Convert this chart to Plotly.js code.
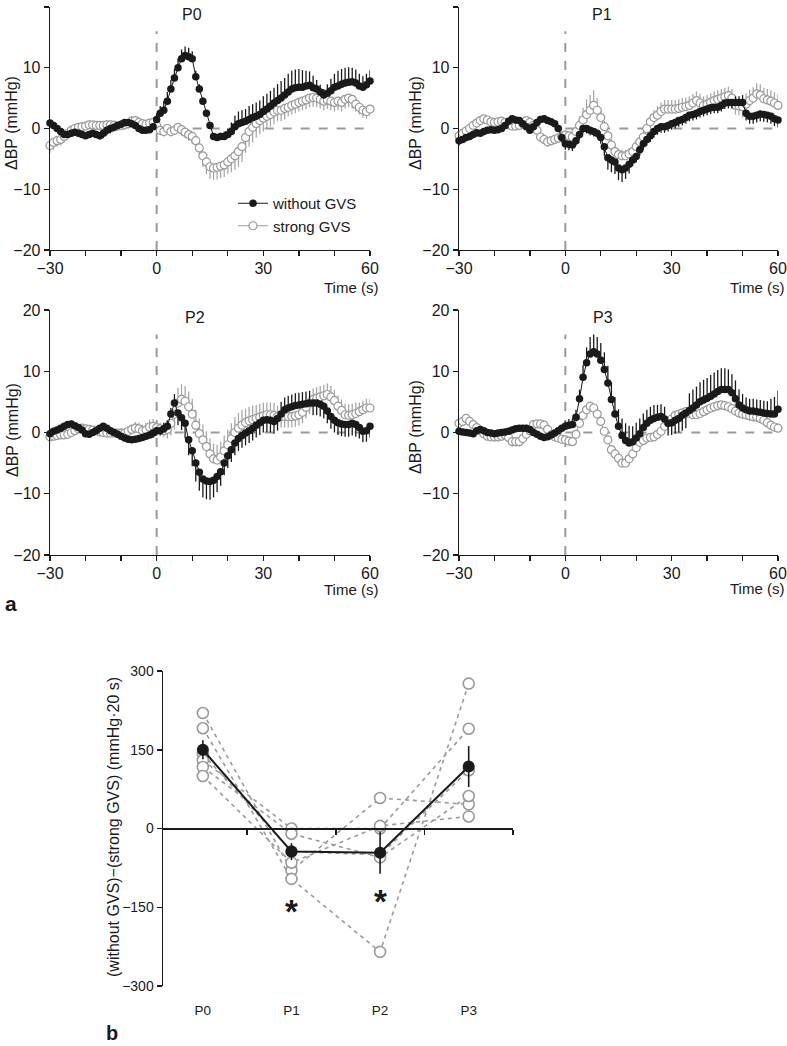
<!DOCTYPE html>
<html><head><meta charset="utf-8">
<script src="https://cdn.plot.ly/plotly-3.0.1.min.js"></script>
<style>html,body{margin:0;padding:0;background:#fff}</style>
</head><body>
<div id="chart" style="width:787px;height:1046px"></div>
<script>
// ---------------- DATA ----------------
const TIME = [-30,-29,-28,-27,-26,-25,-24,-23,-22,-21,-20,-19,-18,-17,-16,-15,-14,-13,-12,-11,
  -10,-9,-8,-7,-6,-5,-4,-3,-2,-1,0,1,2,3,4,5,6,7,8,9,10,11,12,13,14,15,16,17,18,19,
  20,21,22,23,24,25,26,27,28,29,30,31,32,33,34,35,36,37,38,39,40,41,42,43,44,45,46,47,48,49,
  50,51,52,53,54,55,56,57,58,59,60];

const P0_WITHOUT = [0.9,0.5,0.0,-0.5,-1.0,-1.0,-0.8,-0.6,-0.8,-1.0,
  -1.2,-1.0,-0.8,-1.0,-1.2,-0.8,-0.3,0.0,0.2,0.5,
  0.7,1.0,1.0,0.8,0.5,0.0,-0.3,-0.3,-0.2,0.3,
  1.5,2.5,3.0,4.5,6.5,8.3,10.0,11.5,12.0,11.8,
  11.5,8.5,6.5,4.5,2.5,0.5,-1.3,-1.5,-1.3,-1.3,
  -1.0,-0.5,0.3,0.8,1.0,1.2,1.5,1.8,2.0,2.3,
  2.8,3.2,3.7,4.2,4.6,5.0,5.5,6.0,6.5,6.7,
  6.8,6.8,7.0,7.1,6.7,6.5,6.0,5.5,5.8,6.2,
  6.8,7.0,7.3,7.5,7.6,7.7,7.5,7.0,6.8,7.2,7.8];
const P0_WITHOUT_ERR = [0.4,0.4,0.4,0.4,0.4,0.4,0.4,0.4,0.4,0.4,
  0.4,0.4,0.4,0.5,0.6,0.8,0.8,0.8,0.7,0.6,
  0.6,0.5,0.5,0.5,0.4,0.4,0.4,0.4,0.4,0.5,
  1.0,1.2,1.5,1.5,1.5,1.5,1.5,1.5,1.5,1.5,
  1.2,1.0,0.8,0.6,0.5,0.5,0.5,0.5,0.6,0.8,
  1.0,1.5,1.8,2.0,2.0,2.0,2.2,2.2,2.3,2.3,
  2.5,2.5,2.5,2.5,2.7,2.8,2.8,3.0,3.0,3.0,
  3.0,2.8,2.5,2.3,2.0,1.5,1.2,1.0,1.5,2.0,
  2.2,2.5,2.5,2.5,2.5,2.3,2.2,2.0,1.8,1.8,1.8];
const P0_STRONG = [-2.8,-2.3,-2.0,-1.8,-1.3,-0.8,-0.3,0.0,0.2,0.3,
  0.4,0.6,0.6,0.5,0.5,0.5,0.6,0.6,0.5,0.4,
  0.5,0.6,0.8,1.2,1.3,1.0,0.8,0.7,0.9,1.0,
  0.5,-0.3,-0.5,0.0,-0.5,-0.3,0.2,-0.2,-0.6,-1.0,
  -1.3,-2.0,-3.2,-4.5,-5.5,-6.3,-6.5,-6.4,-6.2,-6.0,
  -5.5,-5.0,-4.5,-3.8,-3.0,-1.5,-0.5,0.2,0.8,1.3,
  1.7,2.0,2.3,2.7,3.0,3.0,3.3,3.5,3.8,4.0,
  4.3,4.5,4.7,5.0,5.1,5.0,4.8,4.5,4.7,4.5,
  4.3,4.5,4.3,4.8,5.0,4.8,4.0,3.5,3.0,2.8,3.2];
const P0_STRONG_ERR = [1.2,1.2,1.0,1.0,1.0,0.8,0.8,0.8,0.6,0.6,
  0.6,0.6,0.6,0.6,0.6,0.7,0.8,0.8,0.8,0.8,
  0.8,0.8,0.8,0.8,0.8,0.7,0.7,0.6,0.6,0.6,
  0.6,0.8,0.8,0.8,0.8,0.8,0.8,1.0,1.0,1.0,
  1.2,1.3,1.5,1.8,2.0,2.0,2.0,2.0,2.0,2.0,
  2.0,2.2,2.3,2.5,2.5,2.5,2.5,2.5,2.3,2.2,
  2.2,2.0,2.0,2.0,1.8,1.8,1.8,1.5,1.5,1.5,
  1.5,1.5,1.5,1.5,1.5,1.5,1.5,1.5,1.5,1.5,
  1.5,1.5,1.5,1.5,1.5,1.5,1.2,1.2,1.2,1.2,1.2];

const P1_WITHOUT = [-2.0,-1.8,-1.5,-1.3,-1.0,-0.7,-0.8,-0.5,-0.3,-0.2,
  -0.3,-0.2,0.0,0.5,1.2,1.6,1.4,1.3,0.8,0.3,
  -0.3,0.3,1.0,1.5,1.6,1.3,1.1,0.8,0.0,-1.5,
  -2.5,-2.6,-2.7,-2.0,-1.0,0.0,0.0,-0.3,-0.5,-0.8,
  -1.5,-3.0,-4.8,-5.2,-5.5,-6.5,-6.8,-6.5,-5.9,-5.2,
  -4.6,-3.5,-2.5,-1.8,-1.2,-0.5,0.0,0.3,0.3,0.5,
  0.8,1.0,1.3,1.5,1.8,2.2,2.3,2.5,2.8,3.0,
  3.2,3.4,3.5,3.5,3.8,4.2,4.3,4.3,4.3,4.3,
  4.3,2.5,2.0,2.0,2.2,2.4,2.3,2.2,2.0,1.6,1.4];
const P1_WITHOUT_ERR = [0.8,0.6,0.6,0.6,0.6,0.6,0.6,0.6,0.5,0.5,
  0.5,0.5,0.5,0.5,0.5,0.5,0.5,0.5,0.5,0.5,
  0.5,0.5,0.5,0.5,0.5,0.5,0.5,0.5,0.5,0.8,
  1.0,1.0,1.0,0.8,0.8,0.8,0.8,0.8,0.8,0.8,
  1.0,1.5,2.0,2.0,2.0,2.0,2.0,1.8,1.5,1.0,
  1.0,1.0,1.0,1.0,1.0,1.0,1.0,1.0,1.0,1.0,
  1.0,1.0,1.0,1.0,1.0,1.0,1.0,1.0,1.0,1.0,
  1.0,1.0,1.0,1.0,1.0,1.0,1.0,1.0,1.0,1.0,
  1.2,1.2,1.2,1.2,1.2,1.2,1.2,1.2,1.2,1.2,1.2];
const P1_STRONG = [-1.2,-0.8,-0.4,0.0,0.5,0.9,1.3,1.6,1.4,1.1,
  1.0,1.1,1.2,1.0,0.6,0.4,0.4,0.5,0.8,1.3,
  1.0,0.5,-0.3,-1.4,-1.8,-2.2,-2.0,-1.8,-1.6,-1.3,
  -1.1,-1.2,-1.4,-0.5,0.5,1.4,2.3,3.0,3.8,3.0,
  1.8,0.3,-1.2,-2.7,-3.8,-4.3,-4.5,-4.5,-4.2,-3.8,
  -3.0,-2.2,-1.4,0.0,1.1,1.8,2.2,2.8,3.2,3.2,
  3.2,3.2,3.3,3.5,3.6,3.8,4.2,4.6,4.2,3.8,
  4.0,4.3,4.6,4.8,5.0,5.2,5.4,5.0,3.8,3.7,
  3.6,4.0,4.6,5.0,5.7,5.5,4.9,4.7,4.5,4.2,3.8];
const P1_STRONG_ERR = [0.6,0.6,0.6,0.6,0.6,0.6,0.6,0.6,0.6,0.6,
  0.6,0.6,0.6,0.6,0.6,0.6,0.6,0.6,0.6,0.6,
  0.8,0.8,0.8,0.8,0.8,0.8,0.8,0.8,0.8,0.8,
  0.8,0.8,0.8,1.0,1.5,2.0,2.5,2.5,2.5,2.0,
  1.5,1.0,1.0,1.0,1.0,1.0,1.0,1.0,1.0,1.0,
  1.0,1.0,1.0,1.2,1.2,1.2,1.5,1.5,1.5,1.5,
  1.5,1.5,1.5,1.5,1.5,1.5,1.5,1.5,1.5,1.5,
  1.5,1.5,1.5,1.5,1.5,1.5,1.5,1.5,1.5,1.5,
  1.8,1.8,1.8,1.8,1.8,1.8,1.8,1.8,1.8,1.8,1.8];

const P2_WITHOUT = [-0.2,0.2,0.4,0.7,1.0,1.3,1.4,1.1,0.8,0.4,
  -0.2,-0.3,0.0,0.3,0.7,1.0,0.7,0.3,0.0,-0.3,
  -0.6,-0.9,-1.1,-1.2,-1.1,-1.0,-0.8,-0.6,-0.4,-0.1,
  0.3,0.3,0.6,1.0,3.0,4.8,3.2,2.4,1.5,-1.2,
  -3.0,-5.0,-6.5,-7.6,-7.9,-8.0,-7.8,-7.2,-6.4,-5.0,
  -3.8,-2.8,-1.7,-1.0,-0.5,-0.1,0.3,0.7,1.2,1.6,
  2.0,2.1,2.0,1.8,2.3,3.0,3.7,4.0,4.2,4.4,
  4.5,4.6,4.7,4.8,4.8,4.8,4.6,4.3,3.5,2.6,
  2.0,1.6,1.4,1.3,1.3,1.5,1.3,0.8,0.2,0.3,1.0];
const P2_WITHOUT_ERR = [0.5,0.5,0.5,0.5,0.5,0.5,0.5,0.5,0.5,0.5,
  0.5,0.5,0.5,0.5,0.5,0.5,0.5,0.5,0.5,0.5,
  0.5,0.5,0.5,0.5,0.5,0.5,0.5,0.5,0.5,0.8,
  0.8,0.8,1.0,1.0,1.0,1.5,2.0,2.0,2.5,2.5,
  2.5,3.0,3.0,3.0,3.0,3.0,2.8,2.5,2.3,2.0,
  2.0,2.0,2.0,2.0,2.0,2.0,2.0,2.0,2.0,2.0,
  2.0,2.0,2.0,2.0,2.0,2.0,2.0,2.0,2.0,2.0,
  2.0,2.0,2.0,2.0,2.0,2.0,2.0,2.0,2.0,2.0,
  2.0,2.0,2.0,2.0,2.0,2.0,2.0,1.8,1.8,1.8,1.8];
const P2_STRONG = [-0.7,-0.6,-0.5,-0.4,-0.4,-0.3,0.0,0.3,0.6,0.7,
  0.6,0.5,0.4,0.3,0.1,0.0,-0.1,-0.1,-0.1,-0.1,
  -0.1,-0.1,0.2,0.5,0.7,0.6,0.3,0.4,0.9,1.0,
  0.8,0.6,0.3,0.5,1.5,3.0,4.8,5.4,5.1,4.2,
  3.0,1.2,-0.2,-1.2,-2.3,-3.5,-4.3,-4.5,-4.0,-3.0,
  -2.0,-1.0,0.0,0.7,1.2,1.6,1.9,2.1,2.3,2.5,
  2.7,2.9,2.9,2.8,2.6,2.6,2.6,2.6,2.6,2.7,
  2.9,3.3,4.1,4.8,5.4,5.6,5.8,6.0,6.2,5.8,
  5.2,4.3,3.6,2.9,2.8,2.9,3.1,3.4,3.7,4.0,4.0];
const P2_STRONG_ERR = [0.5,0.5,0.5,0.5,0.5,0.5,0.5,0.5,0.5,0.5,
  0.5,0.5,0.5,0.5,0.5,0.5,0.5,0.5,0.5,0.5,
  0.8,0.8,0.8,0.8,1.0,1.0,1.0,1.2,1.2,1.2,
  1.0,1.0,1.0,1.5,2.0,2.5,2.5,2.5,2.5,2.5,
  2.5,2.5,2.5,2.5,2.5,2.5,2.5,2.5,2.5,2.5,
  2.5,2.5,2.5,2.5,2.5,2.3,2.3,2.3,2.2,2.2,
  2.2,2.0,2.0,2.0,1.8,1.8,1.8,1.8,1.8,1.8,
  1.8,1.8,1.8,1.8,1.8,1.8,1.8,1.8,1.8,1.8,
  1.8,1.8,1.8,1.8,1.8,1.8,1.8,1.5,1.5,1.5,1.5];

const P3_WITHOUT = [0.2,0.1,0.0,-0.1,-0.2,0.3,0.5,0.3,0.0,-0.1,
  -0.2,-0.1,0.0,0.1,0.2,0.4,0.6,0.7,0.7,0.7,
  0.5,0.0,-0.3,-0.6,-0.8,-0.7,-0.4,-0.1,0.3,0.7,
  1.0,1.2,1.3,2.5,5.5,9.0,11.4,12.8,13.2,12.8,
  11.8,10.3,8.1,5.4,3.0,1.0,-0.5,-1.3,-1.7,-1.5,
  -0.9,-0.2,0.8,1.5,2.0,2.3,2.5,2.6,2.2,1.5,
  1.6,2.0,2.3,2.8,3.2,3.6,4.0,4.5,5.0,5.3,
  5.6,5.9,6.3,6.7,7.0,7.0,7.0,6.5,5.5,4.5,
  4.0,3.7,3.5,3.5,3.4,3.3,3.2,3.1,3.0,3.0,3.8];
const P3_WITHOUT_ERR = [0.4,0.4,0.4,0.4,0.4,0.4,0.4,0.4,0.4,0.4,
  0.4,0.4,0.4,0.4,0.4,0.4,0.4,0.4,0.4,0.4,
  0.4,0.4,0.4,0.4,0.4,0.4,0.4,0.4,0.4,0.4,
  0.8,1.0,1.0,1.2,1.5,2.0,2.5,2.8,2.8,2.8,
  2.8,2.8,2.8,2.8,2.8,2.8,2.8,2.8,2.8,2.5,
  2.5,2.5,2.3,2.2,2.2,2.2,2.0,2.0,2.0,2.0,
  2.0,2.2,2.3,2.5,2.5,2.8,3.0,3.0,3.2,3.3,
  3.3,3.5,3.5,3.5,3.5,3.5,3.3,3.0,3.0,2.5,
  2.3,2.0,2.0,2.0,2.0,2.0,2.0,2.0,2.5,2.8,3.0];
const P3_STRONG = [1.5,1.8,2.3,1.8,1.3,0.8,0.3,-0.2,-0.6,-0.7,
  -0.7,-0.7,-0.6,-0.4,-0.8,-1.5,-1.5,-1.5,-1.0,-0.3,
  0.3,1.3,1.4,1.4,1.2,0.5,-0.4,-0.7,-0.9,-1.1,
  -1.2,-1.4,-1.5,-0.3,1.5,2.8,3.7,4.3,4.0,3.0,
  1.8,0.2,-1.2,-2.8,-3.5,-4.2,-5.0,-5.0,-4.3,-3.5,
  -2.5,-1.6,-1.3,-0.9,-0.8,-0.7,-0.3,0.2,1.0,1.6,
  2.2,2.8,3.0,3.2,3.4,3.1,2.9,2.9,3.1,3.4,
  3.7,4.0,4.2,4.4,4.5,4.4,4.2,3.9,3.5,3.2,
  3.0,2.9,2.7,2.6,2.5,2.3,2.0,1.6,1.2,0.9,0.7];
const P3_STRONG_ERR = [0.5,0.5,0.5,0.5,0.5,0.5,0.5,0.5,0.5,0.5,
  0.8,0.8,0.8,0.8,0.8,0.8,0.8,0.8,0.8,0.8,
  0.6,0.6,0.6,0.6,0.6,0.6,0.6,0.6,0.6,0.6,
  0.6,0.6,0.6,0.6,0.6,0.6,0.6,0.6,0.6,0.6,
  0.6,0.6,0.6,0.6,0.6,0.6,0.6,0.6,0.6,0.6,
  0.6,0.6,0.6,0.6,0.6,0.6,0.6,0.6,0.6,0.6,
  0.6,0.6,0.6,0.6,0.6,0.6,0.6,0.6,0.6,0.6,
  0.8,0.8,0.8,0.8,0.8,0.8,0.8,0.8,0.8,0.8,
  0.8,0.8,0.8,0.8,0.8,0.8,0.8,0.8,0.8,0.8,0.8];

const PANEL_NAMES = ['P0','P1','P2','P3'];
const X_TICKS = [-30,-20,-10,0,10,20,30,40,50,60];
const X_TICKTEXT = ['\u221230','','','0','','','30','','','60'];
const Y_TICKS = [-20,-10,0,10,20];
const Y_TICKTEXT = ['\u221220','\u221210','0','10','20'];

// panel b
const PHASES = ['P0','P1','P2','P3'];
const SUBJ1 = [220,-80,58,46];
const SUBJ2 = [191,-96,-235,276];
const SUBJ3 = [142,-44,-50,111];
const SUBJ4 = [130,0,0,190];
const SUBJ5 = [117,-10,-55,62];
const SUBJ6 = [100,-65,5,23];
const MEAN_DIFF = [150,-44,-46,118];
const MEAN_SE = [18,16,40,39];
const B_YTICKS = [-300,-150,0,150,300];
const B_YTICKTEXT = ['\u2212300','\u2212150','0','150','300'];
const SIG_PHASES = [1,2];
const SIG_Y = [-150,-132];

// ---------------- LAYOUT ----------------
const W = 787, H = 1046;
const px = v => v / W, py = v => 1 - v / H;
const FONT = '"Liberation Sans", Arial, Helvetica, sans-serif';
const BLACK = '#1a1a1a', GRAY = '#9a9a9a';

const panels = [
  {w: P0_WITHOUT, we: P0_WITHOUT_ERR, s: P0_STRONG, se: P0_STRONG_ERR, xd:[50,370], yd:[7,250]},
  {w: P1_WITHOUT, we: P1_WITHOUT_ERR, s: P1_STRONG, se: P1_STRONG_ERR, xd:[459,778], yd:[7,250]},
  {w: P2_WITHOUT, we: P2_WITHOUT_ERR, s: P2_STRONG, se: P2_STRONG_ERR, xd:[50,370], yd:[310,555]},
  {w: P3_WITHOUT, we: P3_WITHOUT_ERR, s: P3_STRONG, se: P3_STRONG_ERR, xd:[459,778], yd:[310,555]},
];

function splitErr(self, other, err, upOnTie){
  const plus = [], minus = [];
  for (let i = 0; i < self.length; i++){
    const up = upOnTie ? self[i] >= other[i] : self[i] > other[i];
    plus.push(up ? err[i] : 0); minus.push(up ? 0 : err[i]);
  }
  return {plus, minus};
}

const traces = [];
const layout = {
  width: W, height: H, margin:{l:0,r:0,t:0,b:0},
  paper_bgcolor:'#fff', plot_bgcolor:'rgba(0,0,0,0)',
  font:{family: FONT, color: BLACK, size: 15},
  showlegend: true,
  legend:{x: px(233), y: py(187), xanchor:'left', yanchor:'top', bgcolor:'rgba(0,0,0,0)',
    font:{size:15, family: FONT, color: BLACK}, traceorder:'reversed', itemwidth:30, tracegroupgap:0},
  shapes: [], annotations: []
};

const titlePos = [[192,15],[602,15],[195,317],[603,317]];
const ytitlePos = [[12,123],[416,123],[12,430],[416,427]];
const timePos = [[380,287],[786,287],[380,589],[786,588]];

panels.forEach((p, k) => {
  const n = k + 1;
  const xa = n === 1 ? 'x' : 'x' + n, ya = n === 1 ? 'y' : 'y' + n;
  const sErr = splitErr(p.s, p.w, p.se, false);
  const wErr = splitErr(p.w, p.s, p.we, true);
  traces.push({
    type:'scatter', mode:'lines+markers', x: TIME, y: p.s, xaxis: xa, yaxis: ya,
    name:'strong GVS', showlegend: k === 0, cliponaxis:false,
    line:{color: GRAY, width:1},
    marker:{symbol:'circle', size:8, color:'#fff', line:{color: GRAY, width:1.2}},
    error_y:{type:'data', symmetric:false, array: sErr.plus, arrayminus: sErr.minus,
      color:'#a8a8a8', thickness:1.3, width:0}
  });
  traces.push({
    type:'scatter', mode:'lines+markers', x: TIME, y: p.w, xaxis: xa, yaxis: ya,
    name:'without GVS', showlegend: k === 0, cliponaxis:false,
    line:{color: BLACK, width:1},
    marker:{symbol:'circle', size:7.5, color: BLACK},
    error_y:{type:'data', symmetric:false, array: wErr.plus, arrayminus: wErr.minus,
      color: BLACK, thickness:1.3, width:0}
  });
  const axKey = n === 1 ? '' : String(n);
  layout['xaxis' + axKey] = {
    domain:[px(p.xd[0]), px(p.xd[1])], anchor: ya, range:[-30,60],
    tickmode:'array', tickvals: X_TICKS, ticktext: X_TICKTEXT,
    ticks:'outside', ticklen:5, tickwidth:1.3, tickcolor: BLACK, ticklabelstandoff:-2,
    showline:true, linecolor: BLACK, linewidth:1.3, showgrid:false, zeroline:false,
    tickfont:{size:16, family: FONT, color: BLACK}, fixedrange:true
  };
  layout['yaxis' + axKey] = {
    domain:[py(p.yd[1]), py(p.yd[0])], anchor: xa, range:[-20,20],
    tickmode:'array', tickvals: Y_TICKS, ticktext: Y_TICKTEXT,
    ticks:'outside', ticklen:5, tickwidth:1.3, tickcolor: BLACK,
    showline:true, linecolor: BLACK, linewidth:1.3, showgrid:false, zeroline:false,
    tickfont:{size:16, family: FONT, color: BLACK}, fixedrange:true
  };
  // stimulus onset and baseline reference lines
  layout.shapes.push({type:'line', xref: xa, yref: ya, x0:0, x1:0, y0:-20, y1:16, layer:'below',
    line:{color: GRAY, width:2, dash:'dash'}});
  layout.shapes.push({type:'line', xref: xa, yref: ya, x0:0, x1:60, y0:0, y1:0, layer:'below',
    line:{color: GRAY, width:2, dash:'dash'}});
  layout.annotations.push({text: PANEL_NAMES[k], xref:'paper', yref:'paper', x: px(titlePos[k][0]), y: py(titlePos[k][1]),
    xanchor:'center', yanchor:'middle', showarrow:false, font:{size:16}});
  layout.annotations.push({text:'\u0394BP (mmHg)', xref:'paper', yref:'paper', x: px(ytitlePos[k][0]), y: py(ytitlePos[k][1]),
    xanchor:'center', yanchor:'middle', textangle:-90, showarrow:false, font:{size:16}});
  layout.annotations.push({text:'Time (s)', xref:'paper', yref:'paper', x: px(timePos[k][0]), y: py(timePos[k][1]),
    xanchor:'right', yanchor:'middle', showarrow:false, font:{size:15}});
});

// panel b
const BX = [0,1,2,3];
[SUBJ1,SUBJ2,SUBJ3,SUBJ4,SUBJ5,SUBJ6].forEach(s => {
  traces.push({type:'scatter', mode:'lines+markers', x: BX, y: s, xaxis:'x5', yaxis:'y5',
    showlegend:false, cliponaxis:false,
    line:{color: GRAY, width:1.6, dash:'4px,4px'},
    marker:{symbol:'circle', size:11, color:'#fff', line:{color: GRAY, width:1.6}}});
});
traces.push({type:'scatter', mode:'lines+markers', x: BX, y: MEAN_DIFF, xaxis:'x6', yaxis:'y5',
  showlegend:false, cliponaxis:false,
  line:{color: BLACK, width:2},
  marker:{symbol:'circle', size:12, color: BLACK},
  error_y:{type:'data', array: MEAN_SE, color: BLACK, thickness:1.6, width:0}});

const bDomX = [px(163), px(513)];
layout.xaxis5 = {domain: bDomX, anchor:'y5', range:[-0.45,3.5],
  tickmode:'array', tickvals: BX, ticktext: PHASES, ticks:'', showline:false,
  showgrid:false, zeroline:false, ticklabelstandoff:14,
  tickfont:{size:13.5, family: FONT, color: BLACK}, fixedrange:true};
layout.xaxis6 = {overlaying:'x5', anchor:'free', position: py(828), range:[-0.45,3.5],
  tickmode:'array', tickvals:[0.5,1.5,2.5,3.5], ticks:'outside', ticklen:5, tickwidth:1.5, tickcolor: BLACK,
  showticklabels:false, showline:true, linecolor: BLACK, linewidth:1.5, showgrid:false, zeroline:false, fixedrange:true};
layout.yaxis5 = {domain:[py(986), py(671)], anchor:'x5', range:[-300,300],
  tickmode:'array', tickvals: B_YTICKS, ticktext: B_YTICKTEXT,
  ticks:'outside', ticklen:5, tickwidth:1.5, tickcolor: BLACK,
  showline:true, linecolor: BLACK, linewidth:1.5, showgrid:false, zeroline:false,
  tickfont:{size:14, family: FONT, color: BLACK}, fixedrange:true};

layout.annotations.push({text:'(without GVS)\u2212(strong GVS) (mmHg\u00b720 s)', xref:'paper', yref:'paper',
  x: px(113), y: py(827), xanchor:'center', yanchor:'middle', textangle:-90, showarrow:false, font:{size:16}});
SIG_PHASES.forEach((ph, i) => {
  layout.annotations.push({text:'<b>*</b>', xref:'x5', yref:'y5', x: ph, y: SIG_Y[i], xanchor:'center', yanchor:'middle',
    yshift:-4, showarrow:false, font:{size:33, color: BLACK}});
});
layout.annotations.push({text:'<b>a</b>', xref:'paper', yref:'paper', x: px(11), y: py(603),
  xanchor:'center', yanchor:'middle', showarrow:false, font:{size:21}});
layout.annotations.push({text:'<b>b</b>', xref:'paper', yref:'paper', x: px(112), y: py(1033),
  xanchor:'center', yanchor:'middle', showarrow:false, font:{size:20}});

Plotly.newPlot('chart', traces, layout, {displayModeBar:false, staticPlot:true});
</script>
</body></html>
